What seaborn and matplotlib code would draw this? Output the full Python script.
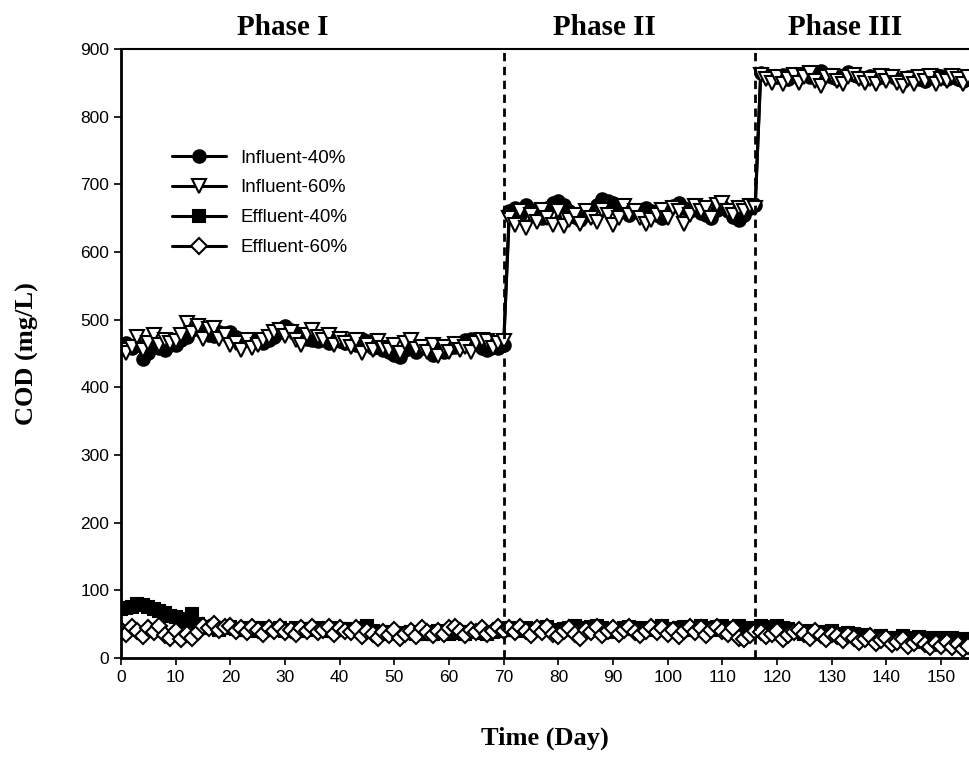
import numpy as np
import pandas as pd
import matplotlib
matplotlib.use("Agg")
import matplotlib.pyplot as plt
import matplotlib.transforms as mtransforms
import seaborn as sns

# Sampling days (one measurement per day)
days = list(range(0, 156))

# Influent COD, 40 % and 60 % runs (mg/L)
inf40_p1 = [460, 465, 458, 462, 442, 450, 466, 458, 455, 462, 463, 470, 475, 485, 488, 480,
            478, 476, 482, 480, 482, 475, 472, 470, 472, 468, 466, 470, 475, 482, 490, 485,
            480, 475, 472, 470, 468, 474, 466, 470, 468, 465, 470, 462, 472, 468, 458, 460,
            455, 452, 448, 445, 455, 460, 452, 458, 462, 448, 455, 452, 458, 460, 466, 470,
            472, 468, 458, 455, 460, 458, 462]
inf40_p2 = [660, 665, 655, 670, 662, 658, 650, 665, 672, 676, 670, 660, 652, 648, 655, 662,
            670, 678, 675, 672, 668, 660, 655, 662, 658, 665, 660, 655, 650, 662, 668, 672,
            665, 660, 670, 658, 655, 650, 662, 668, 660, 652, 648, 655, 665, 670]
inf40_p3 = [865, 862, 860, 858, 862, 855, 860, 862, 865, 858, 860, 868, 862, 858, 855, 860,
            866, 862, 858, 856, 860, 855, 858, 862, 860, 856, 852, 858, 860, 855, 852, 858,
            862, 860, 856, 858, 855, 852, 856]

inf60_p1 = [455, 450, 460, 475, 455, 465, 478, 462, 470, 465, 468, 478, 495, 480, 490, 472,
            486, 488, 472, 478, 462, 466, 455, 470, 458, 462, 470, 475, 482, 485, 476, 482,
            470, 462, 478, 485, 475, 470, 478, 462, 472, 466, 460, 470, 450, 462, 455, 468,
            458, 455, 462, 450, 465, 470, 456, 460, 452, 462, 446, 460, 452, 464, 455, 460,
            452, 465, 470, 468, 458, 466, 468]
inf60_p2 = [650, 640, 660, 635, 655, 645, 662, 650, 640, 660, 638, 648, 655, 642, 660, 650,
            645, 662, 655, 640, 650, 668, 655, 660, 650, 642, 648, 655, 662, 650, 665, 660,
            642, 655, 668, 660, 665, 650, 670, 672, 660, 655, 665, 660, 668, 665]
inf60_p3 = [862, 855, 850, 858, 848, 856, 862, 850, 858, 865, 852, 846, 858, 860, 852, 848,
            858, 862, 855, 850, 856, 848, 860, 852, 858, 850, 846, 855, 848, 858, 852, 860,
            848, 856, 852, 860, 855, 848, 858]

# Effluent COD (mg/L)
eff40 = [72, 74, 76, 80, 78, 76, 72, 70, 66, 62, 60, 58, 55, 65,
         50, 46, 44, 45, 42, 44, 46, 43, 42, 44, 40, 43, 45, 42, 41, 44, 40,
         42, 44, 40, 43, 42, 45, 40, 42, 44, 41, 43, 40, 42, 45, 47, 40, 38, 36, 38, 37,
         35, 37, 38, 36, 35, 38, 36, 40, 38, 35, 37, 39, 36, 38, 40, 37, 35, 38, 40, 42,
         44, 42, 40, 45, 43, 41, 44, 46, 42, 40, 43, 45, 47, 44, 42, 46, 48, 44, 40, 38,
         42, 44, 46, 45, 43,
         44, 42, 45, 47, 43, 41, 44, 46, 42, 45, 47, 44, 42, 46, 48, 45, 43, 47, 44, 42, 45,
         48, 46, 44, 47, 45, 43, 40, 38, 36, 40, 38, 35, 38, 40, 36, 34, 37, 35, 32,
         34, 31, 30, 33, 29, 28, 30, 32, 27, 29, 31, 28, 30, 26, 29, 27, 30, 26, 28, 27]
eff60 = [42, 36, 46, 40, 32, 44, 38, 48, 34, 30, 40, 28, 36, 30, 38, 48, 44, 50, 42, 46,
         48, 40, 44, 38, 46, 42, 36, 44, 40, 46, 38,
         42, 36, 44, 40, 46, 38, 42, 46, 36, 44, 40, 38, 44, 32, 40, 36, 30, 38, 34, 42,
         30, 36, 40, 32, 44, 38, 34, 40, 36, 44, 46, 40, 34, 42, 38, 44, 36, 40, 46, 40,
         44, 38, 46, 40, 34, 44, 38, 46, 36, 32, 40, 44, 36, 30, 42, 38, 46, 34, 40, 44,
         36, 42, 46, 38, 34, 40, 46, 38, 44, 36, 42, 32, 40, 46, 38, 44, 34, 42, 46, 40,
         36, 44, 30, 28, 34, 40,
         38, 32, 36, 40, 28, 34, 38, 42, 36, 30, 40, 34, 28, 36, 32, 26, 34, 30, 24, 28,
         32, 22, 26, 30, 20, 24, 28, 18, 22, 26, 20, 16, 22, 18, 24, 16, 20, 14, 18]

phase_bounds = [70, 116]
phase_labels = ["Phase I", "Phase II", "Phase III"]
phase_label_x = [29.5, 88.5, 132.5]
x_ticks = list(range(0, 151, 10))
y_ticks = list(range(0, 901, 100))

df = pd.DataFrame({
    "day": days,
    "Influent-40%": inf40_p1 + inf40_p2 + inf40_p3,
    "Influent-60%": inf60_p1 + inf60_p2 + inf60_p3,
    "Effluent-40%": eff40,
    "Effluent-60%": eff60,
})

sns.set_theme(style="white")
plt.rcParams["font.family"] = ["Liberation Sans", "DejaVu Sans"]
plt.rcParams["text.color"] = "black"
plt.rcParams["axes.labelcolor"] = "black"

fig = plt.figure(figsize=(9.69, 7.58), dpi=100)
ax = fig.add_axes([0.1249, 0.1319, 0.8751, 0.8035])

styles = {
    "Influent-40%": dict(marker="o", mfc="black", ms=9),
    "Influent-60%": dict(marker="v", mfc="white", ms=10.5),
    "Effluent-40%": dict(marker="s", mfc="black", ms=8),
    "Effluent-60%": dict(marker="D", mfc="white", ms=8),
}
for name, st in styles.items():
    sns.lineplot(data=df, x="day", y=name, ax=ax, color="black", linewidth=2.2,
                 marker=st["marker"], markersize=st["ms"], markerfacecolor=st["mfc"],
                 markeredgecolor="black", markeredgewidth=1.5, label=name)

for xb in phase_bounds:
    ax.axvline(xb, color="black", linestyle=(0, (3, 2)), linewidth=2, zorder=5)

trans = mtransforms.blended_transform_factory(ax.transData, ax.transAxes)
for lab, xl in zip(phase_labels, phase_label_x):
    ax.text(xl, 1.035, lab, transform=trans, ha="center", va="center",
            fontsize=21, fontweight="bold", family=["Liberation Serif"])

ax.set_xlim(0, 155.1)
ax.set_ylim(0, 900)
ax.set_xticks(x_ticks)
ax.set_yticks(y_ticks)
ax.tick_params(axis="both", direction="out", length=5, width=1.2, labelsize=12.5,
               colors="black", bottom=True, left=True)
ax.set_xlabel("Time (Day)", fontsize=19, fontweight="bold", family=["Liberation Serif"],
              labelpad=30)
ax.set_ylabel("COD (mg/L)", fontsize=19, fontweight="bold", family=["Liberation Serif"],
              labelpad=30)

for side in ["left", "bottom"]:
    ax.spines[side].set_linewidth(2)
    ax.spines[side].set_color("black")
ax.spines["top"].set_linewidth(1.5)
ax.spines["top"].set_color("black")
ax.spines["right"].set_visible(False)

leg = ax.legend(loc="upper left", bbox_to_anchor=(0.06, 0.835), frameon=False,
                fontsize=13.5, handlelength=2.9, handletextpad=0.75, labelspacing=0.68,
                borderaxespad=0, borderpad=0)

fig.savefig("out.png", dpi=100)
